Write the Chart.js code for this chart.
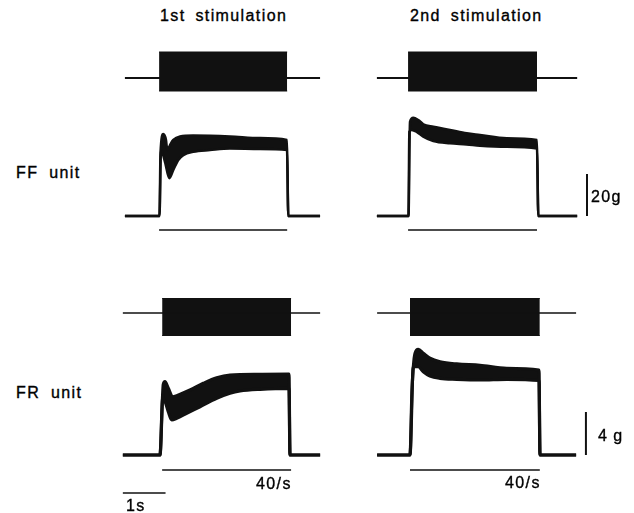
<!DOCTYPE html>
<html>
<head>
<meta charset="utf-8">
<script src="https://cdn.jsdelivr.net/npm/chart.js@4.4.1/dist/chart.umd.min.js"></script>
<style>
  body { margin: 0; background: #fff; }
  #fig { position: relative; width: 634px; height: 513px; overflow: hidden; font-family: "Liberation Sans", Arial, sans-serif; color: #000; }
  #fig canvas { position: absolute; }
  .lbl { position: absolute; font-size: 16px; line-height: 16px; white-space: nowrap; letter-spacing: 1.4px; -webkit-text-stroke: 0.35px #000; }
</style>
</head>
<body>
<div id="fig">
  <canvas id="ff1" width="240" height="200" style="left:100px;top:40px"></canvas>
  <canvas id="ff2" width="274" height="200" style="left:360px;top:40px"></canvas>
  <canvas id="fr1" width="240" height="228" style="left:100px;top:285px"></canvas>
  <canvas id="fr2" width="274" height="228" style="left:360px;top:285px"></canvas>

  <div class="lbl" style="left:160px;top:8px;word-spacing:4px">1st stimulation</div>
  <div class="lbl" style="left:410px;top:8px;word-spacing:4px">2nd stimulation</div>
  <div class="lbl" style="left:16px;top:165px;word-spacing:5px">FF unit</div>
  <div class="lbl" style="left:16px;top:385px;word-spacing:5px">FR unit</div>
  <div class="lbl" style="left:591px;top:189px">20g</div>
  <div class="lbl" style="left:598px;top:428px;word-spacing:-1px">4 g</div>
  <div class="lbl" style="left:256px;top:476px">40/s</div>
  <div class="lbl" style="left:505px;top:475px">40/s</div>
  <div class="lbl" style="left:126px;top:498px">1s</div>
</div>
<script>
// force envelopes: [time in s after train onset, force in g]
// upper and lower edge of the unfused 40/s tetanus
const ffFirstTop = [[0,0],[0.023,30.0],[0.089,39.0],[0.152,36.2],[0.183,31.4],[0.246,33.8],[0.323,36.2],[0.48,37.9],[0.785,38.3],[1.651,37.9],[2.354,37.1],[2.986,36.2],[3.016,0]];
const ffFirstBottom = [[0,0],[0.035,31.4],[0.129,25.7],[0.23,18.0],[0.323,21.9],[0.44,26.7],[0.557,29.0],[0.792,30.6],[1.183,31.4],[1.651,32.1],[2.354,31.9],[2.986,31.4],[3.016,0]];
const ffSecondTop = [[0,0],[0.035,44.9],[0.112,46.8],[0.23,45.7],[0.347,43.7],[0.581,42.5],[0.972,41.0],[1.363,39.4],[1.674,38.6],[2.3,37.0],[3.009,36.2],[3.04,0]];
const ffSecondBottom = [[0,0],[0.019,40.1],[0.075,41.0],[0.192,40.1],[0.347,37.8],[0.581,35.7],[0.972,34.6],[1.363,34.1],[1.674,33.5],[2.3,33.0],[3.009,32.1],[3.04,0]];
const frFirstTop = [[0,0],[0.077,6.58],[0.117,6.82],[0.194,6.2],[0.297,5.42],[0.391,5.52],[0.703,6.05],[1.014,6.67],[1.328,7.19],[1.639,7.44],[2.342,7.51],[3.021,7.53],[3.044,0]];
const frFirstBottom = [[0,0],[0.063,5.27],[0.117,5.0],[0.194,4.03],[0.274,3.26],[0.391,3.41],[0.625,3.88],[0.937,4.49],[1.328,5.27],[1.639,5.74],[1.874,5.95],[2.342,6.11],[3.021,6.2],[3.044,0]];
const frSecondTop = [[0,0],[0.047,6.05],[0.117,9.46],[0.194,9.83],[0.311,9.46],[0.468,9.0],[0.703,8.68],[1.094,8.47],[1.639,8.34],[2.265,8.07],[3.021,7.91],[3.044,0]];
const frSecondBottom = [[0,0],[0.077,8.21],[0.194,8.21],[0.311,7.75],[0.468,7.35],[0.703,7.13],[1.094,7.04],[1.639,6.98],[2.265,7.04],[3.021,6.93],[3.044,0]];

// stimulus train start/end (s) and recorded span of each sweep (s)
const stimFFFirst = [-0.01, 2.99];
const stimFFSecond = [-0.01, 3.01];
const stimFRFirst = [0.05, 3.07];
const stimFRSecond = [0, 3.04];
const spanFFFirst = [-0.81, 3.76];
const spanFFSecond = [-0.74, 3.95];
const spanFRFirst = [-0.87, 3.75];
const spanFRSecond = [-0.77, 3.89];

// stimulus artifact envelope (arbitrary units, high / low)
const artifactFF = [2.6, -1.3];
const artifactFR = [1.45, -2.25];

// calibration bars
const forceBarG = [20, 4];
const timeBarS = 1;

const PX_PER_S = 42.7;

const marks = {
  id: 'marks',
  afterDatasetsDraw(chart, args, o) {
    const { ctx, scales: { x, y } } = chart;
    const seg = (x1, y1, x2, y2, w) => {
      ctx.lineWidth = w;
      ctx.beginPath(); ctx.moveTo(x1, y1); ctx.lineTo(x2, y2); ctx.stroke();
    };
    ctx.save();
    ctx.strokeStyle = '#111';
    const y0 = y.getPixelForValue(0);
    if (o.under) seg(x.getPixelForValue(o.under[0]), y0 + o.underDy, x.getPixelForValue(o.under[1]), y0 + o.underDy, 1.5);
    if (o.bar) {
      const bx = x.getPixelForValue(o.bar.t);
      seg(bx, y0, bx, y.getPixelForValue(o.bar.g), 2);
    }
    if (o.time) {
      const ty = y0 + o.time.dy;
      seg(x.getPixelForValue(o.time.t), ty, x.getPixelForValue(o.time.t + o.time.len), ty, 1.5);
    }
    ctx.restore();
  }
};

function panel(id, p) {
  const c = document.getElementById(id);
  const W = c.width, H = c.height;
  const base = { pointRadius: 0, borderColor: '#111', backgroundColor: '#111', tension: 0 };
  const stim = p.stim, span = p.span;
  new Chart(c, {
    type: 'line',
    data: {
      datasets: [
        { ...base, yAxisID: 'ys', borderWidth: p.stimLine, data: [[span[0], 0], [span[1], 0]] },
        { ...base, yAxisID: 'ys', borderWidth: 1, data: [[stim[0], p.art[0]], [stim[1], p.art[0]]] },
        { ...base, yAxisID: 'ys', borderWidth: 1, fill: '-1', data: [[stim[0], p.art[1]], [stim[1], p.art[1]]] },
        { ...base, yAxisID: 'y', borderWidth: p.trace, cubicInterpolationMode: 'monotone',
          data: [[span[0], 0], ...p.top, [span[1], 0]] },
        { ...base, yAxisID: 'y', borderWidth: p.trace, cubicInterpolationMode: 'monotone', fill: '-1',
          data: [[span[0], 0], ...p.bottom, [span[1], 0]] }
      ]
    },
    options: {
      responsive: false,
      animation: false,
      layout: { padding: 0 },
      scales: {
        x: { type: 'linear', display: false, min: -p.onset / PX_PER_S, max: (W - p.onset) / PX_PER_S },
        y: { display: false, min: -p.baseBelow / p.pxPerG, max: (H - p.baseBelow) / p.pxPerG },
        ys: { display: false, min: -(H - p.stimFromTop) / 10, max: p.stimFromTop / 10 }
      },
      plugins: {
        legend: { display: false },
        tooltip: { enabled: false },
        marks: { under: stim, underDy: p.underDy, bar: p.bar, time: p.time }
      }
    },
    plugins: [marks]
  });
}

panel('ff1', { top: ffFirstTop, bottom: ffFirstBottom, stim: stimFFFirst, span: spanFFFirst, art: artifactFF,
  onset: 59.5, pxPerG: 2.1, baseBelow: 24, stimFromTop: 38, stimLine: 2, trace: 2.5, underDy: 14 });
panel('ff2', { top: ffSecondTop, bottom: ffSecondBottom, stim: stimFFSecond, span: spanFFSecond, art: artifactFF,
  onset: 48.5, pxPerG: 2.1, baseBelow: 24, stimFromTop: 38, stimLine: 2, trace: 2.5, underDy: 14,
  bar: { t: 4.18, g: forceBarG[0] } });
panel('fr1', { top: frFirstTop, bottom: frFirstBottom, stim: stimFRFirst, span: spanFRFirst, art: artifactFR,
  onset: 60, pxPerG: 10.75, baseBelow: 58, stimFromTop: 28, stimLine: 1.6, trace: 3.2, underDy: 15,
  time: { t: -0.87, len: timeBarS, dy: 38 } });
panel('fr2', { top: frSecondTop, bottom: frSecondBottom, stim: stimFRSecond, span: spanFRSecond, art: artifactFR,
  onset: 50, pxPerG: 10.75, baseBelow: 58, stimFromTop: 28, stimLine: 1.6, trace: 3.2, underDy: 15,
  bar: { t: 4.12, g: forceBarG[1] } });
</script>
</body>
</html>
